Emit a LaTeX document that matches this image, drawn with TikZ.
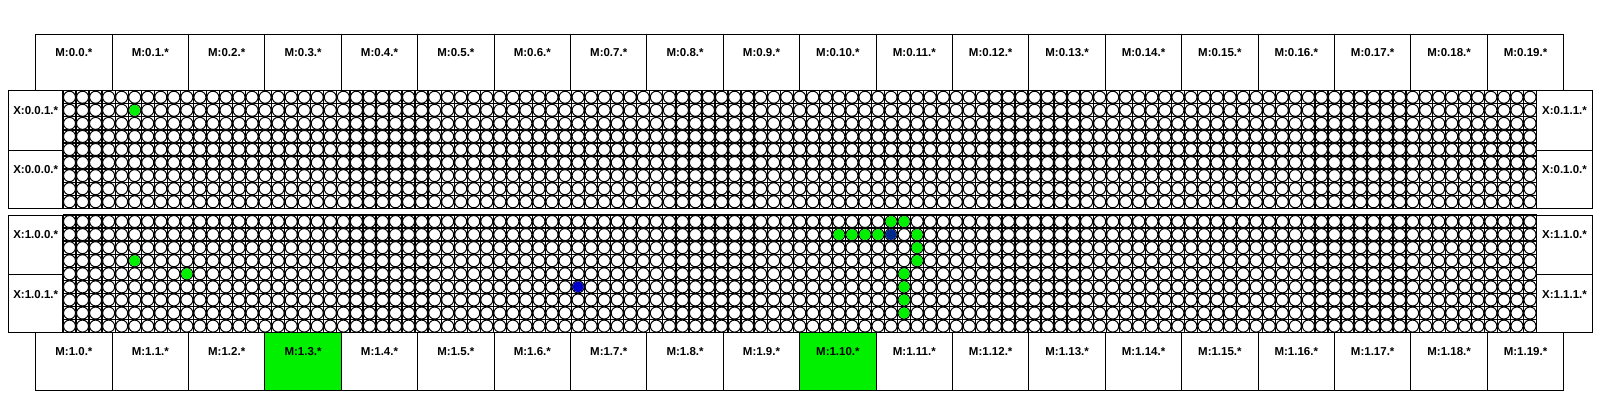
\documentclass[tikz,border=0pt]{standalone}
\usepackage{fontspec}
\setmainfont{Liberation Sans}
\definecolor{hitgreen}{RGB}{0,240,0}
\definecolor{navyblue}{RGB}{0,40,140}
\definecolor{midblue}{RGB}{0,0,205}
\def\gridx{63}
\def\cellw{13.04}
\def\cellh{13.07}
\def\boxw{76.4}
\def\celldot[#1](#2:#3:#4){\fill[#1] ({\gridx+(#3+0.5)*\cellw},{#2+(#4+0.5)*\cellh}) circle (5.6);}
\tikzset{mlabel/.style={font=\fontsize{11.5}{12}\selectfont\bfseries, inner sep=0pt}}

\begin{document}
\begin{tikzpicture}[x=1pt,y=-1pt]
				\useasboundingbox[fill=white] (0,0) rectangle (1600,400);
				
				% top row of M boxes
				\foreach \i in {0,...,19} {
					\draw[line width=1pt] ({35.7+\i*\boxw},34.3) rectangle ++(\boxw,56.4);
					\node[mlabel] (mtop\i) at ({35.7+(\i+0.5)*\boxw},53) {M:0.\i.*};
				}
				
				% bottom row of M boxes
				\foreach \i in {0,...,19} {
					\ifnum\i=3 \def\boxfill{hitgreen}\else\ifnum\i=10 \def\boxfill{hitgreen}\else\def\boxfill{white}\fi\fi
					\draw[line width=1pt, fill=\boxfill] ({35.7+\i*\boxw},332.7) rectangle ++(\boxw,57.3);
					\node[mlabel] (mbot\i) at ({35.7+(\i+0.5)*\boxw},351.5) {M:1.\i.*};
				}
				
				% the two panels of cells
				\foreach \ptop in {90.7,215} {
					\foreach \c in {0,...,113}
						\draw[line width=1.3pt] ({\gridx+\c*\cellw},\ptop) -- ({\gridx+\c*\cellw},{\ptop+9*\cellh});
					\foreach \r in {0,...,9}
						\draw[line width=1.3pt] (\gridx,{\ptop+\r*\cellh}) -- ({\gridx+113*\cellw},{\ptop+\r*\cellh});
					\foreach \r in {0,...,8}
						\foreach \c in {0,...,112}
							\draw[line width=1pt, fill=white] ({\gridx+(\c+0.5)*\cellw},{\ptop+(\r+0.5)*\cellh}) circle (6.0);
					\draw[line width=1pt] (8.3,\ptop) rectangle (1592.3,{\ptop+117.6});
					\draw[line width=1pt] (8.3,{\ptop+59.5}) -- (\gridx,{\ptop+59.5});
					\draw[line width=1pt] (1536.7,{\ptop+59.5}) -- (1592.3,{\ptop+59.5});
				}
				
				% X labels
				\node[mlabel] (xa) at (35.7,110.5) {X:0.0.1.*};
				\node[mlabel] (xb) at (35.7,170) {X:0.0.0.*};
				\node[mlabel] (xc) at (1564.5,110.5) {X:0.1.1.*};
				\node[mlabel] (xd) at (1564.5,170) {X:0.1.0.*};
				\node[mlabel] (xe) at (35.7,234.8) {X:1.0.0.*};
				\node[mlabel] (xf) at (35.7,294.3) {X:1.0.1.*};
				\node[mlabel] (xg) at (1564.5,234.8) {X:1.1.0.*};
				\node[mlabel] (xh) at (1564.5,294.3) {X:1.1.1.*};
				
				% marked cells
				\celldot[hitgreen](90.7:5:1)
				\foreach \c/\r in {5/3,9/4,63/0,64/0,59/1,60/1,61/1,62/1,65/1,65/2,65/3,64/4,64/5,64/6,64/7} {
					\celldot[hitgreen](215:\c:\r)
				}
				\celldot[navyblue](215:63:1)
				\celldot[midblue](215:39:5)
			\end{tikzpicture}
\end{document}
